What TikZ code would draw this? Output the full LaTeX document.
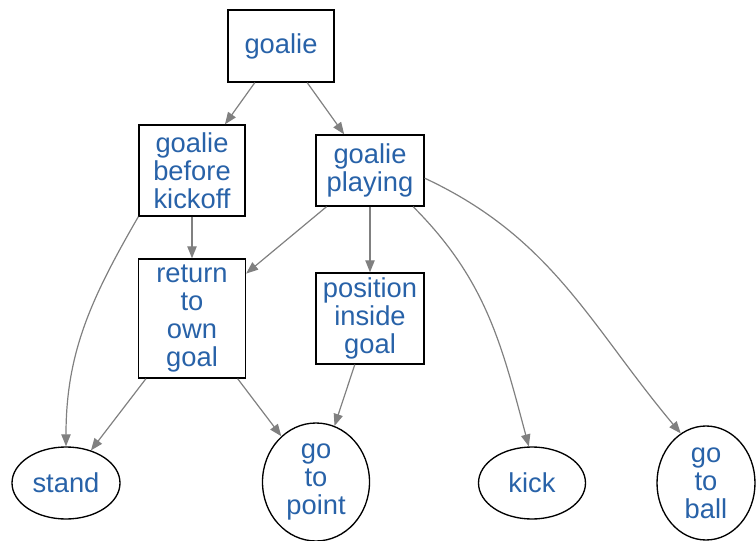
\documentclass[tikz,border=0pt]{standalone}
\usepackage{fontspec}
\setmainfont{Liberation Sans}
\usepackage{tikz}
\usetikzlibrary{shapes}
\usetikzlibrary{arrows.meta}
\definecolor{labelblue}{RGB}{40,98,168}
\definecolor{edgegray}{RGB}{128,128,128}

\begin{document}
\begin{tikzpicture}[x=0.75pt, y=-0.75pt,
    behavior/.style={draw, line width=1pt, rectangle, inner sep=0pt, align=center,
        text=labelblue, font=\fontsize{20.5}{21}\selectfont},
    skill/.style={draw, line width=1pt, ellipse, inner sep=0pt, align=center,
        text=labelblue, font=\fontsize{20.5}{21}\selectfont},
    link/.style={color=edgegray, line width=0.9pt, -{Triangle[length=9pt, width=7pt]}}]
%
\useasboundingbox (0,0) rectangle (756,541);

%
\node[behavior, minimum width=79.5pt, minimum height=54pt](goalie) at (281,46) {goalie};
\node[behavior, minimum width=79.5pt, minimum height=68.25pt](before_kickoff) at (192,170.5) {goalie\\before\\kickoff};
\node[behavior, minimum width=81pt, minimum height=53.25pt](playing) at (370,170.5) {goalie\\playing};
\node[behavior, minimum width=80.25pt, minimum height=89.25pt](return_goal) at (192,318.5) {return\\to\\own\\goal};
\node[behavior, minimum width=81pt, minimum height=68.25pt](position_goal) at (370,318.5) {position\\inside\\goal};

%
\node[skill, minimum width=81pt, minimum height=54pt](stand) at (66,483) {stand};
\node[skill, minimum width=80.25pt, minimum height=88.5pt](go_point) at (316,482) {go\\to\\point};
\node[skill, minimum width=80.25pt, minimum height=54pt](kick) at (532,483) {kick};
\node[skill, minimum width=73.5pt, minimum height=85.5pt](go_ball) at (706,483) {go\\to\\ball};

%
\draw[link] (goalie) -- (before_kickoff);
\draw[link] (goalie) -- (playing);
\draw[link] (before_kickoff) -- (return_goal);
\draw[link] (before_kickoff.south west) to[out=240, in=90] (stand.north);
\draw[link] (playing) -- (return_goal);
\draw[link] (playing) -- (position_goal);
\draw[link] (playing.-40) to[out=-45, in=105] (kick.95);
\draw[link] (playing.-8) to[out=-25, in=130] (go_ball.117);

%
\draw[link] (return_goal) -- (stand);
\draw[link] (return_goal) -- (go_point);
\draw[link] (position_goal) -- (go_point);

\end{tikzpicture}
\end{document}
